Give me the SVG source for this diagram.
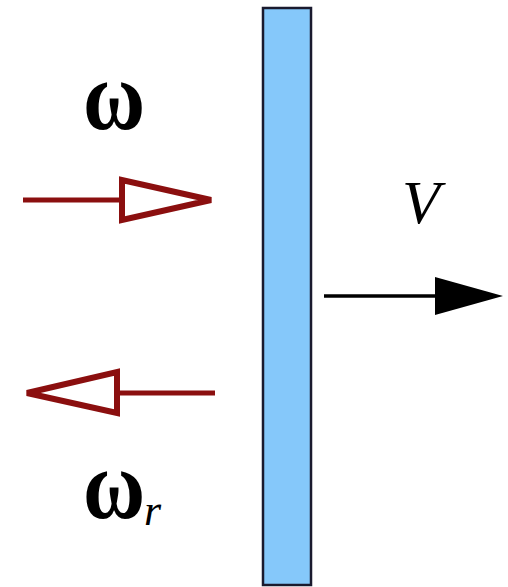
<svg xmlns="http://www.w3.org/2000/svg" width="508" height="587" viewBox="0 0 508 587">
<style>
.red{stroke:#8b0f0f;stroke-width:5;fill:none}
.redhead{stroke:#8b0f0f;stroke-width:6;fill:#fff;stroke-linejoin:miter}
.lbl{font-family:"Liberation Serif",serif;fill:#000}
.om{font-size:100px;font-weight:bold}
</style>
<rect width="508" height="587" fill="#fff"/>
<g id="plate">
<rect x="263" y="8" width="48" height="577" fill="#85c8fa" stroke="#1a1a2e" stroke-width="2.5"/>
</g>
<g id="connectors">
<line class="red" x1="23" y1="200" x2="122" y2="200"/>
<polygon class="redhead" points="122,180 122,220 211,200"/>
<line class="red" x1="117" y1="393" x2="215" y2="393"/>
<polygon class="redhead" points="117,372 117,413 27,393"/>
<line x1="324" y1="296" x2="440" y2="296" stroke="#000" stroke-width="3.5"/>
<polygon points="435,277 435,315 503,296" fill="#000"/>
</g>
<g id="label-omega">
<text class="lbl om" transform="translate(114,129) scale(0.85,1)" text-anchor="middle">ω</text>
</g>
<g id="label-omega-r">
<text class="lbl om" transform="translate(114,518) scale(0.85,1)" text-anchor="middle">ω</text>
<text class="lbl" x="144" y="525" font-size="44" font-style="italic">r</text>
</g>
<g id="label-V">
<text class="lbl" x="421" y="223" font-size="62" font-style="italic" text-anchor="middle">V</text>
</g>
</svg>
